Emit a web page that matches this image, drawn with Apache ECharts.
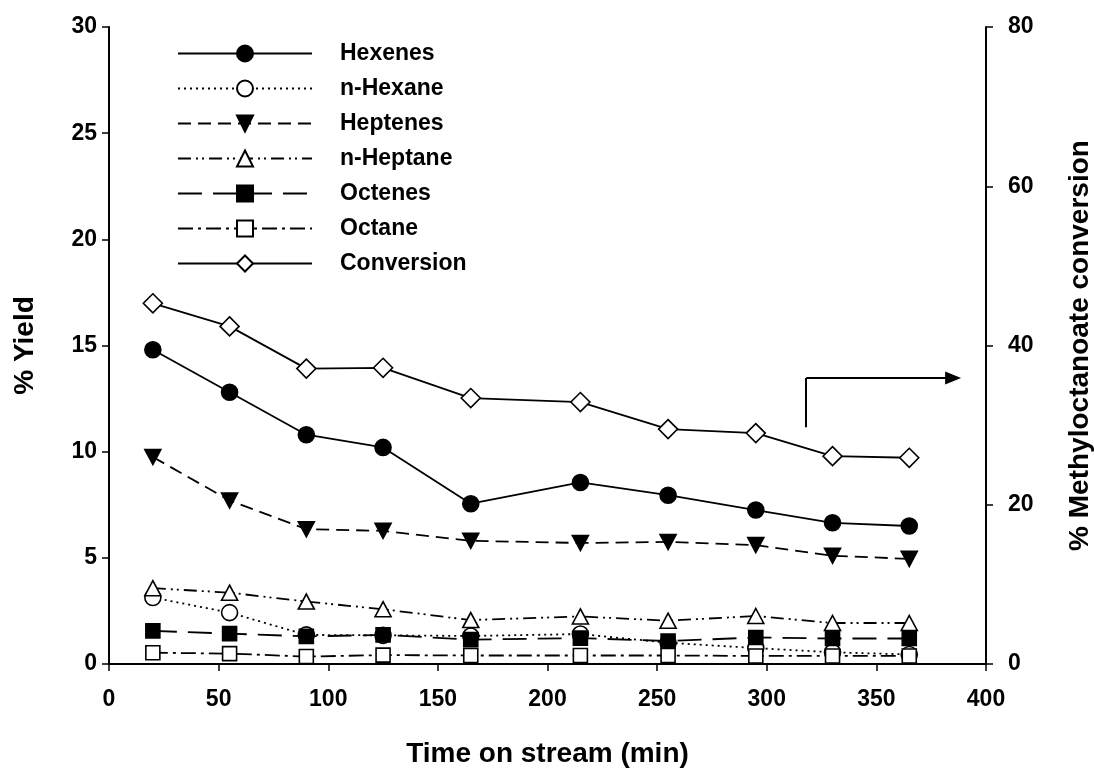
<!DOCTYPE html>
<html>
<head>
<meta charset="utf-8">
<title>Yield and conversion vs time on stream</title>
<script src="https://cdn.jsdelivr.net/npm/echarts@6/dist/echarts.min.js"></script>
<style>
  html, body { margin: 0; padding: 0; background: #fff; }
  #chart { width: 1094px; height: 768px; }
</style>
</head>
<body>
<div id="chart"></div>
<script>
// Sampling times (min)
const timeOnStream = [20, 55, 90, 125, 165, 215, 255, 295, 330, 365];

// Product yields (%)
const hexenes   = [14.8, 12.8, 10.8, 10.2, 7.55, 8.55, 7.95, 7.25, 6.65, 6.5];
const nHexane   = [3.13, 2.42, 1.37, 1.35, 1.32, 1.41, 1.0, 0.75, 0.55, 0.45];
const heptenes  = [9.75, 7.7, 6.35, 6.27, 5.8, 5.7, 5.75, 5.6, 5.1, 4.95];
const nHeptane  = [3.57, 3.36, 2.94, 2.58, 2.07, 2.24, 2.04, 2.26, 1.93, 1.93];
const octenes   = [1.56, 1.43, 1.3, 1.37, 1.15, 1.22, 1.08, 1.25, 1.2, 1.2];
const octane    = [0.53, 0.49, 0.35, 0.42, 0.4, 0.4, 0.4, 0.38, 0.38, 0.38];

// Methyl octanoate conversion (%)
const conversion = [45.3, 42.4, 37.1, 37.2, 33.4, 32.9, 29.5, 29.0, 26.1, 25.9];

// Axis tick settings
const yieldTicks = { min: 0, max: 30, interval: 5 };
const convTicks  = { min: 0, max: 80, interval: 20 };
const timeTicks  = { min: 0, max: 400, interval: 50 };

// Arrow pointing toward the conversion axis (time, % yield)
const arrowFoot   = [318, 11.15];
const arrowCorner = [318, 13.47];
const arrowTip    = [385, 13.47];

const pairs = (ys) => timeOnStream.map((t, i) => [t, ys[i]]);

const FONT = '"Liberation Sans", Arial, sans-serif';
const BLACK = '#000';

function lineSeries(name, values, opts) {
  return Object.assign({
    name: name,
    type: 'line',
    data: pairs(values),
    symbolSize: 16,
    lineStyle: { color: BLACK, width: 1.8, type: opts.dash || 'solid' },
    itemStyle: { color: opts.fill, borderColor: BLACK, borderWidth: 1.6 },
    emphasis: { disabled: true },
    yAxisIndex: 0
  }, opts.extra || {});
}

const chart = echarts.init(document.getElementById('chart'), null, { renderer: 'canvas' });

const axisLabelStyle = { color: BLACK, fontFamily: FONT, fontWeight: 'bold', fontSize: 23 };
const axisNameStyle = { color: BLACK, fontFamily: FONT, fontWeight: 'bold', fontSize: 28 };

chart.setOption({
  backgroundColor: '#fff',
  animation: false,
  grid: { left: 109, right: 108, top: 27, bottom: 104, containLabel: false, outerBoundsMode: 'none' },
  legend: {
    orient: 'vertical',
    left: 172,
    top: 37,
    itemWidth: 134,
    itemHeight: 20,
    itemGap: 12,
    selectedMode: false,
    textStyle: {
      color: BLACK, fontFamily: FONT, fontWeight: 'bold', fontSize: 23,
      lineHeight: 20, padding: [0, 0, 0, 23]
    },
    data: ['Hexenes', 'n-Hexane', 'Heptenes', 'n-Heptane', 'Octenes', 'Octane', 'Conversion']
  },
  xAxis: [{
    type: 'value',
    min: timeTicks.min, max: timeTicks.max, interval: timeTicks.interval,
    name: 'Time on stream (min)',
    nameLocation: 'middle',
    nameGap: 76,
    nameTextStyle: axisNameStyle,
    axisLine: { show: true, onZero: false, lineStyle: { color: BLACK, width: 2 } },
    axisTick: { show: true, inside: false, length: 7, lineStyle: { color: BLACK, width: 1.5 } },
    axisLabel: Object.assign({ margin: 24 }, axisLabelStyle),
    splitLine: { show: false }
  }, {
    // top frame line
    type: 'value',
    position: 'top',
    min: timeTicks.min, max: timeTicks.max,
    axisLine: { show: true, lineStyle: { color: BLACK, width: 2 } },
    axisTick: { show: false },
    axisLabel: { show: false },
    splitLine: { show: false }
  }],
  yAxis: [{
    type: 'value',
    position: 'left',
    min: yieldTicks.min, max: yieldTicks.max, interval: yieldTicks.interval,
    name: '% Yield',
    nameLocation: 'middle',
    nameGap: 70,
    nameRotate: 90,
    nameTextStyle: axisNameStyle,
    axisLine: { show: true, onZero: false, lineStyle: { color: BLACK, width: 2 } },
    axisTick: { show: true, inside: false, length: 7, lineStyle: { color: BLACK, width: 1.5 } },
    axisLabel: Object.assign({ margin: 12 }, axisLabelStyle),
    splitLine: { show: false }
  }, {
    type: 'value',
    position: 'right',
    min: convTicks.min, max: convTicks.max, interval: convTicks.interval,
    name: '% Methyloctanoate conversion',
    nameLocation: 'middle',
    nameGap: 80,
    nameRotate: 90,
    nameTextStyle: axisNameStyle,
    axisLine: { show: true, onZero: false, lineStyle: { color: BLACK, width: 2 } },
    axisTick: { show: true, inside: false, length: 7, lineStyle: { color: BLACK, width: 1.5 } },
    axisLabel: Object.assign({ margin: 22 }, axisLabelStyle),
    splitLine: { show: false }
  }],
  series: [
    lineSeries('Conversion', conversion, {
      fill: '#fff',
      extra: { yAxisIndex: 1, symbol: 'diamond', symbolSize: [19, 19] }
    }),
    lineSeries('Hexenes', hexenes, {
      fill: BLACK,
      extra: {
        symbol: 'circle',
        markLine: {
          silent: true,
          animation: false,
          label: { show: false },
          lineStyle: { color: BLACK, width: 2, type: 'solid' },
          data: [
            [{ coord: arrowFoot, symbol: 'none' }, { coord: arrowCorner, symbol: 'none' }],
            [{ coord: arrowCorner, symbol: 'none' }, { coord: arrowTip, symbol: 'triangle', symbolSize: [13, 16] }]
          ]
        }
      }
    }),
    lineSeries('Heptenes', heptenes, {
      fill: BLACK, dash: [13, 7],
      extra: { symbol: 'triangle', symbolRotate: 180, symbolSize: [16, 15] }
    }),
    lineSeries('n-Hexane', nHexane, {
      fill: '#fff', dash: [2, 4],
      extra: { symbol: 'circle' }
    }),
    lineSeries('n-Heptane', nHeptane, {
      fill: '#fff', dash: [13, 5, 2, 4, 2, 5],
      extra: { symbol: 'triangle', symbolSize: [16, 15] }
    }),
    lineSeries('Octenes', octenes, {
      fill: BLACK, dash: [24, 11],
      extra: { symbol: 'rect', symbolSize: 14 }
    }),
    lineSeries('Octane', octane, {
      fill: '#fff', dash: [15, 5, 3, 5],
      extra: { symbol: 'rect', symbolSize: 14 }
    })
  ]
});
</script>
</body>
</html>
